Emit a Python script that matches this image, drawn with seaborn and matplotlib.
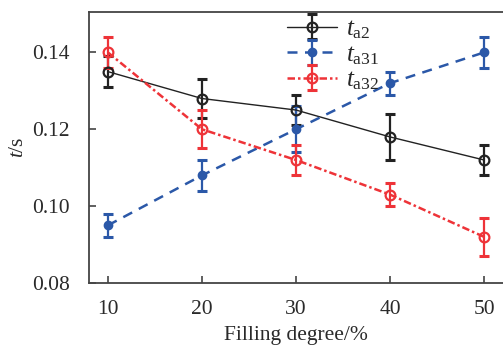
import matplotlib
matplotlib.use("Agg")
import matplotlib.pyplot as plt
import seaborn as sns
import numpy as np
import pandas as pd

fill = [10, 20, 30, 40, 50]
t_a2 = [0.135, 0.128, 0.125, 0.118, 0.112]
t_a2_err = [0.004, 0.005, 0.004, 0.006, 0.004]
t_a31 = [0.095, 0.108, 0.120, 0.132, 0.140]
t_a31_err = [0.003, 0.004, 0.006, 0.003, 0.004]
t_a32 = [0.140, 0.120, 0.112, 0.103, 0.092]
t_a32_err = [0.004, 0.005, 0.004, 0.003, 0.005]
labels = [r"$t_{\rm a2}$", r"$t_{\rm a31}$", r"$t_{\rm a32}$"]
yticks = [0.08, 0.10, 0.12, 0.14]
xticks = [10, 20, 30, 40, 50]

sns.set_theme(style="ticks")
plt.rcParams["font.family"] = ["Liberation Serif", "DejaVu Serif"]
plt.rcParams["mathtext.fontset"] = "custom"
plt.rcParams["mathtext.rm"] = "Liberation Serif"
plt.rcParams["mathtext.it"] = "Liberation Serif:italic"

fig = plt.figure(figsize=(5.03, 3.49), dpi=100)
ax = fig.add_axes([0.177, 0.189, 0.823, 0.7766])

styles = [
    dict(color="#222222", ls="-", lw=1.0, marker="o", mfc="none", ms=7, mew=1.6),
    dict(color="#2b58a8", ls=(0, (4, 3)), lw=1.8, marker="o", mfc="#2b58a8", ms=6, mew=1.0),
    dict(color="#ee3338", ls=(0, (3, 1.2, 1, 1.2)), lw=1.8, marker="o", mfc="none", ms=7, mew=1.6),
]
series = [(t_a2, t_a2_err), (t_a31, t_a31_err), (t_a32, t_a32_err)]
handles = []
for (vals, errs), st, lab in zip(series, styles, labels):
    df = pd.DataFrame({"x": fill, "y": vals})
    eb = ax.errorbar(fill, vals, yerr=errs, fmt="none", ecolor=st["color"],
                     elinewidth=1.6, capsize=3.5, capthick=2.2, zorder=2)
    sns.lineplot(data=df, x="x", y="y", ax=ax, color=st["color"], linestyle=st["ls"],
                 linewidth=st["lw"], marker=st["marker"], markerfacecolor=st["mfc"],
                 markeredgecolor=st["color"], markersize=st["ms"], markeredgewidth=st["mew"],
                 legend=False, zorder=3)
    line = ax.lines[-1]
    handles.append((line, eb))

ax.set_xlim(8, 52)
ax.set_ylim(0.08, 0.1505)
ax.set_xticks(xticks)
ax.set_xticklabels([str(v) for v in xticks])
ax.set_yticks(yticks)
ax.set_yticklabels([f"{v:.2f}" for v in yticks])
ax.tick_params(direction="in", length=5, width=1.2, labelsize=15.5, colors="#444444",
               labelcolor="#2a2a2a")
ax.tick_params(axis="x", pad=12)
ax.tick_params(axis="y", pad=14)
for s in ["left", "bottom", "top"]:
    ax.spines[s].set_color("#444444")
    ax.spines[s].set_linewidth(1.3)
ax.spines["right"].set_visible(False)
ax.set_xlabel("Filling degree/%", fontsize=15.5, color="#2a2a2a", labelpad=5)
ax.set_ylabel(r"$t$/s", fontsize=15.5, color="#2a2a2a", labelpad=3)

leg = ax.legend(handles, labels, loc="upper left", bbox_to_anchor=(0.455, 1.015),
                frameon=False, fontsize=18, handlelength=2.0, labelspacing=0.1,
                handletextpad=0.35, borderaxespad=0.0)

fig.savefig("out.png", dpi=100)
